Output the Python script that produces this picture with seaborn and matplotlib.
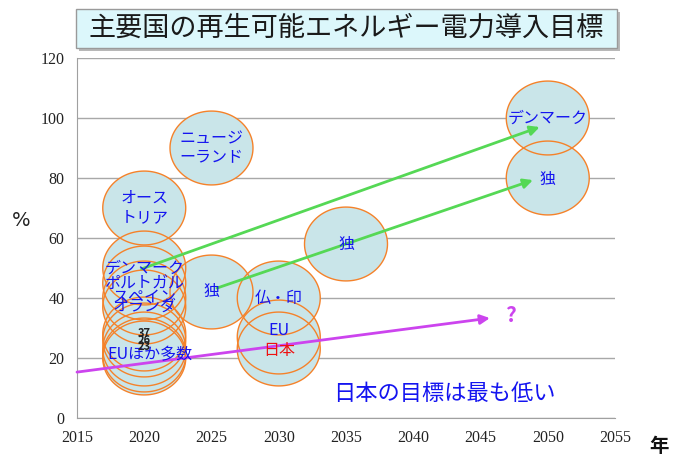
import matplotlib
matplotlib.use('Agg')
import matplotlib.pyplot as plt
import matplotlib.patches as mpatches
from matplotlib.path import Path
import numpy as np
import pandas as pd
import seaborn as sns

# bubbles: target year and renewable share (%)
bubble_year = [2020, 2020, 2020, 2020, 2020, 2020, 2020, 2020, 2020, 2020,
               2025, 2025, 2030, 2030, 2030, 2035, 2050, 2050]
bubble_pct = [70, 50, 45, 40, 37, 28, 26, 23, 21, 20,
              90, 42, 40, 27, 23, 58, 100, 80]

# country labels
label_text = ['オース\nトリア', 'デンマーク', 'ポルトガル', 'スペイン', 'オランダ', 'EUほか多数',
              'ニュージ\nーランド', '独', '仏・印', 'EU', '日本', '独', 'デンマーク', '独']
label_year = [2020, 2020, 2020, 2020, 2020, 2020.4,
              2025, 2025, 2030, 2030, 2030, 2035, 2050, 2050]
label_pct = [70, 50, 44.7, 40, 37.3, 21,
             90, 42.3, 39.7, 29.3, 22.6, 58, 100, 79.5]
label_color = ['#1414f0'] * 10 + ['#ee1111'] + ['#1414f0'] * 3

# overlapping small numbers in the 2020 cluster
num_text = ['37', '26', '23']
num_pct = [28.3, 26.0, 23.7]

# arrows (start -> end)
arrow_x0 = [2019.8, 2025.4, 2015.0]
arrow_y0 = [49.7, 43.3, 15.3]
arrow_x1 = [2049.4, 2048.9, 2045.7]
arrow_y1 = [97.0, 79.3, 33.3]
arrow_color = ['#55d855', '#55d855', '#cc44ee']

x_ticks = list(range(2015, 2060, 5))
y_ticks = list(range(0, 140, 20))

sns.set_style('white')
plt.rcParams['font.family'] = ['Noto Sans CJK JP', 'DejaVu Sans']

df = pd.DataFrame({'year': bubble_year, 'pct': bubble_pct})

fig = plt.figure(figsize=(6.74, 4.57), dpi=100, facecolor='white')
ax = fig.add_axes([77 / 674, 1 - 418 / 457, 538 / 674, 360 / 457])

# slightly flattened circle marker
theta = np.linspace(0, 2 * np.pi, 120)
ell = Path(np.column_stack([np.cos(theta), 0.89 * np.sin(theta)]), closed=True)

# fills first, then all outlines on top
sns.scatterplot(data=df, x='year', y='pct', ax=ax, marker=ell, s=3570,
                color='#c9e5e9', edgecolor='none', linewidth=0, zorder=2, legend=False)
sns.scatterplot(data=df, x='year', y='pct', ax=ax, marker=ell, s=3570,
                facecolor='none', edgecolor='#f5822a', linewidth=1.0, zorder=3, legend=False)

for x0, y0, x1, y1, c in zip(arrow_x0, arrow_y0, arrow_x1, arrow_y1, arrow_color):
    ax.annotate('', xy=(x1, y1), xytext=(x0, y0), zorder=4,
                arrowprops=dict(arrowstyle='-|>', color=c, lw=2, mutation_scale=14,
                                shrinkA=0, shrinkB=0))

for t, x, y, c in zip(label_text, label_year, label_pct, label_color):
    ax.text(x, y, t, ha='center', va='center', color=c,
            fontsize=11.5, linespacing=1.15, zorder=5)

for t, y in zip(num_text, num_pct):
    ax.text(2020, y, t, ha='center', va='center', color='#222222', fontsize=8,
            fontweight='bold', zorder=5)

ax.text(2047.2, 34.3, '?', ha='center', va='center', color='#cc44ee', fontsize=15,
        fontweight='bold', zorder=5)
ax.text(2042.3, 8.3, '日本の目標は最も低い', ha='center', va='center', color='#1414f0',
        fontsize=16, zorder=5)

ax.set_xlim(2015, 2055)
ax.set_ylim(0, 120)
ax.set_xticks(x_ticks)
ax.set_yticks(y_ticks)
ax.set_xticklabels([str(v) for v in x_ticks], family='Liberation Serif', fontsize=11.5, color='#222222')
ax.set_yticklabels([str(v) for v in y_ticks], family='Liberation Serif', fontsize=11.5, color='#222222')
ax.set_xlabel('')
ax.set_ylabel('')
ax.yaxis.grid(True, color='#a8a8a8', lw=1)
ax.set_axisbelow(True)
ax.tick_params(axis='both', length=5, color='#a0a0a0', width=1, pad=4, direction='out')
for s in ['top', 'right']:
    ax.spines[s].set_visible(False)
for s in ['left', 'bottom']:
    ax.spines[s].set_color('#a0a0a0')

fig.text(21 / 674, 1 - 220 / 457, '%', ha='center', va='center', fontsize=14, color='#222222',
         family='DejaVu Sans')
fig.text(659 / 674, 1 - 446 / 457, '年', ha='center', va='center', fontsize=14,
         fontweight='bold', color='#111111')

# title box with shadow
fig.patches.append(mpatches.Rectangle((79 / 674, 1 - 51 / 457), 541 / 674, 39 / 457,
                                      transform=fig.transFigure, facecolor='#b8b8b8',
                                      edgecolor='none', zorder=0))
fig.patches.append(mpatches.Rectangle((76 / 674, 1 - 48 / 457), 541 / 674, 39 / 457,
                                      transform=fig.transFigure, facecolor='#dcf7fb',
                                      edgecolor='#9a9a9a', lw=1, zorder=1))
fig.text(346 / 674, 1 - 28 / 457, '主要国の再生可能エネルギー電力導入目標', ha='center', va='center',
         fontsize=19.5, color='#1a1a1a', zorder=2)

plt.savefig('out.png', dpi=100, facecolor='white')
